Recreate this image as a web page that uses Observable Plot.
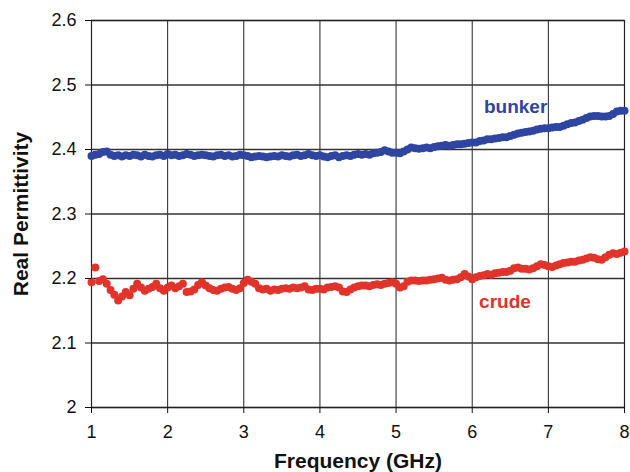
<!DOCTYPE html>
<html>
<head>
<meta charset="utf-8">
<script src="https://cdn.jsdelivr.net/npm/d3@7"></script>
<script src="https://cdn.jsdelivr.net/npm/@observablehq/plot@0.6"></script>
<style>
  html, body { margin: 0; padding: 0; background: #fff; }
  #chart svg { display: block; font-family: "Liberation Sans", Arial, Helvetica, sans-serif; }
  g[aria-label="x-axis label"] text, g[aria-label="y-axis label"] text { font-weight: bold; font-size: 21px; }
  g[aria-label="x-axis tick label"] text, g[aria-label="y-axis tick label"] text { font-size: 18px; }
</style>
</head>
<body>
<div id="chart"></div>
<script>
const frequency = [
  1.00,1.05,1.10,1.15,1.20,1.25,1.30,1.35,1.40,1.45,1.50,1.55,1.60,1.65,1.70,1.75,1.80,1.85,1.90,1.95,
  2.00,2.05,2.10,2.15,2.20,2.25,2.30,2.35,2.40,2.45,2.50,2.55,2.60,2.65,2.70,2.75,2.80,2.85,2.90,2.95,
  3.00,3.05,3.10,3.15,3.20,3.25,3.30,3.35,3.40,3.45,3.50,3.55,3.60,3.65,3.70,3.75,3.80,3.85,3.90,3.95,
  4.00,4.05,4.10,4.15,4.20,4.25,4.30,4.35,4.40,4.45,4.50,4.55,4.60,4.65,4.70,4.75,4.80,4.85,4.90,4.95,
  5.00,5.05,5.10,5.15,5.20,5.25,5.30,5.35,5.40,5.45,5.50,5.55,5.60,5.65,5.70,5.75,5.80,5.85,5.90,5.95,
  6.00,6.05,6.10,6.15,6.20,6.25,6.30,6.35,6.40,6.45,6.50,6.55,6.60,6.65,6.70,6.75,6.80,6.85,6.90,6.95,
  7.00,7.05,7.10,7.15,7.20,7.25,7.30,7.35,7.40,7.45,7.50,7.55,7.60,7.65,7.70,7.75,7.80,7.85,7.90,7.95,
  8.00
];
const bunker = [
  2.390,2.392,2.393,2.396,2.397,2.392,2.390,2.391,2.389,2.391,2.390,2.392,2.391,2.389,2.392,2.390,2.389,2.391,2.392,2.390,
  2.393,2.391,2.392,2.390,2.391,2.393,2.392,2.390,2.391,2.392,2.391,2.390,2.389,2.391,2.392,2.390,2.391,2.389,2.390,2.392,
  2.391,2.390,2.388,2.389,2.390,2.389,2.388,2.389,2.390,2.389,2.391,2.390,2.389,2.391,2.392,2.390,2.391,2.393,2.391,2.390,
  2.391,2.389,2.388,2.390,2.391,2.388,2.390,2.391,2.390,2.392,2.393,2.392,2.393,2.392,2.394,2.395,2.396,2.399,2.397,2.395,
  2.395,2.394,2.397,2.400,2.403,2.402,2.401,2.402,2.403,2.402,2.404,2.405,2.406,2.407,2.406,2.407,2.408,2.408,2.409,2.410,
  2.411,2.411,2.413,2.414,2.416,2.416,2.417,2.418,2.419,2.419,2.421,2.423,2.425,2.426,2.427,2.428,2.429,2.431,2.432,2.433,
  2.433,2.434,2.435,2.435,2.437,2.439,2.441,2.442,2.444,2.446,2.449,2.451,2.452,2.452,2.451,2.451,2.452,2.455,2.459,2.460,
  2.460
];
const crude = [
  2.194,2.217,2.196,2.199,2.192,2.182,2.175,2.166,2.172,2.179,2.174,2.184,2.192,2.186,2.181,2.184,2.187,2.192,2.185,2.181,
  2.186,2.189,2.185,2.188,2.192,2.179,2.180,2.183,2.190,2.194,2.189,2.185,2.182,2.181,2.184,2.186,2.187,2.184,2.182,2.185,
  2.193,2.198,2.195,2.192,2.185,2.183,2.184,2.181,2.183,2.182,2.184,2.185,2.184,2.186,2.185,2.186,2.188,2.183,2.182,2.184,
  2.184,2.183,2.186,2.187,2.188,2.186,2.180,2.179,2.183,2.186,2.188,2.189,2.189,2.188,2.190,2.191,2.190,2.192,2.193,2.194,
  2.192,2.186,2.188,2.195,2.197,2.197,2.196,2.197,2.197,2.198,2.199,2.200,2.201,2.198,2.197,2.198,2.199,2.202,2.207,2.203,
  2.199,2.202,2.204,2.205,2.207,2.206,2.208,2.209,2.210,2.210,2.212,2.216,2.217,2.215,2.215,2.214,2.216,2.219,2.222,2.221,
  2.219,2.218,2.220,2.222,2.224,2.225,2.226,2.226,2.228,2.229,2.231,2.233,2.232,2.230,2.229,2.233,2.237,2.239,2.238,2.240,
  2.242
];
const xTicks = [1, 2, 3, 4, 5, 6, 7, 8];
const yTicks = [2, 2.1, 2.2, 2.3, 2.4, 2.5, 2.6];
const seriesNames = ["bunker", "crude"];
const seriesColors = ["#2e45a2", "#e2332a"];
const labelX = [6.57, 6.43];
const labelY = [2.466, 2.163];

const bunkerData = frequency.map((f, i) => ({f, v: bunker[i]}));
const crudeData = frequency.map((f, i) => ({f, v: crude[i]}));
const labels = seriesNames.map((name, i) => ({name, f: labelX[i], v: labelY[i], color: seriesColors[i]}));

const chart = Plot.plot({
  width: 630,
  height: 472,
  marginLeft: 91,
  marginRight: 6,
  marginTop: 20,
  marginBottom: 65,
  x: {domain: [1, 8]},
  y: {domain: [2, 2.6]},
  marks: [
    Plot.gridX(xTicks, {stroke: "#222", strokeOpacity: 1, strokeWidth: 1}),
    Plot.gridY(yTicks, {stroke: "#333", strokeOpacity: 1, strokeWidth: 1.3}),
    Plot.frame({stroke: "#222", strokeWidth: 1.2}),
    Plot.dot(bunkerData, {x: "f", y: "v", r: 4, fill: seriesColors[0], stroke: "none"}),
    Plot.dot(crudeData, {x: "f", y: "v", r: 4, fill: seriesColors[1], stroke: "none"}),
    Plot.text(labels, {x: "f", y: "v", text: "name", fill: "color", fontSize: 19, fontWeight: "bold"}),
    Plot.axisX({ticks: xTicks, tickSize: 6, tickPadding: 12, tickFormat: d3.format("~g"),
      label: "Frequency (GHz)", labelAnchor: "center", labelArrow: "none", labelOffset: 60, color: "#111"}),
    Plot.axisY({ticks: yTicks, tickSize: 6, tickPadding: 9, tickFormat: d3.format("~g"),
      label: "Real Permittivity", labelAnchor: "center", labelArrow: "none", labelOffset: 78, color: "#111"})
  ]
});
document.getElementById("chart").appendChild(chart);
</script>
</body>
</html>
